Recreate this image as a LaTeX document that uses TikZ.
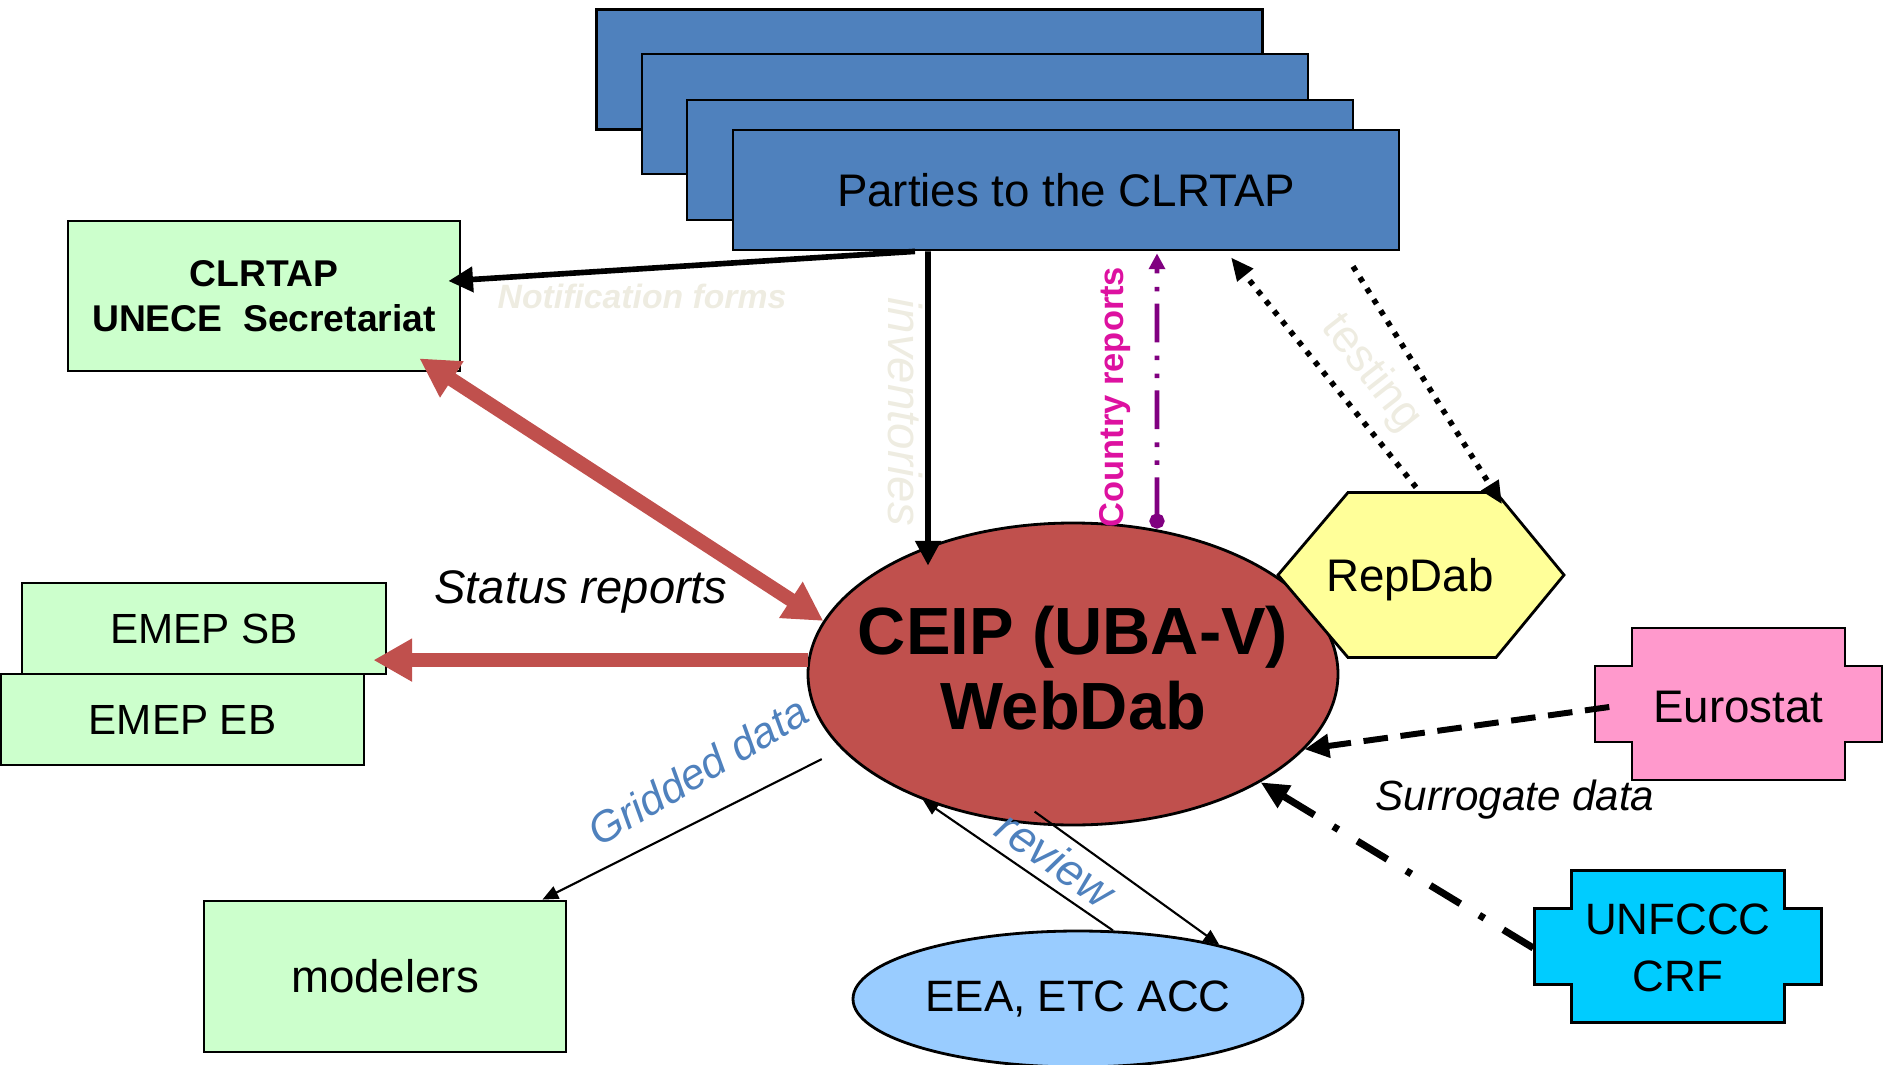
\documentclass[tikz,border=0pt]{standalone}
\usepackage{fontspec}
\setmainfont{Liberation Sans}
\usetikzlibrary{shapes,arrows.meta,positioning}
\definecolor{partyblue}{RGB}{79,129,189}
\definecolor{boxgreen}{RGB}{204,255,204}
\definecolor{ceipred}{RGB}{192,80,77}
\definecolor{repyellow}{RGB}{255,255,153}
\definecolor{europink}{RGB}{255,153,204}
\definecolor{unfcyan}{RGB}{0,204,255}
\definecolor{eeablue}{RGB}{153,204,255}
\definecolor{paletext}{RGB}{238,236,225}
\definecolor{reportmagenta}{RGB}{221,17,160}
\definecolor{reportpurple}{RGB}{128,0,128}
\newcommand{\txtsize}[2]{\fontsize{#1pt}{#2pt}\selectfont}

\tikzset{
  box/.style={draw, line width=0.8pt, inner sep=0pt, align=center},
  sheet/.style={box, fill=partyblue, minimum width=6.66cm, minimum height=1.2cm},
  greenbox/.style={box, fill=boxgreen},
  lbl/.style={inner sep=0pt},
  redarrow/.style={draw=ceipred, line width=4pt, -{Triangle[length=11pt,width=11.5pt]}},
  thickarrow/.style={line width=1.6pt, -{Triangle[length=7pt,width=7pt]}},
  thinarrow/.style={line width=0.6pt, -{Triangle[length=4.5pt,width=3.8pt]}},
  dotarrow/.style={line width=1.6pt, dash pattern=on 1.5pt off 2.2pt, -{Triangle[length=6.5pt,width=5.5pt]}},
  dasharrow/.style={line width=1.7pt, dash pattern=on 7pt off 3.6pt, -{Triangle[length=7pt,width=6.5pt]}},
  dashdotarrow/.style={line width=2pt, dash pattern=on 10pt off 6.3pt on 1.7pt off 6.3pt, -{Triangle[length=8pt,width=7pt]}},
  reportarrow/.style={draw=reportpurple, line width=1.4pt, dash pattern=on 11pt off 3.5pt on 1.3pt off 3.8pt on 1.3pt off 3.8pt, {Circle[length=4.3pt]}-{Triangle[length=4.5pt,width=4.5pt]}}
}

\begin{document}
\begin{tikzpicture}
\useasboundingbox (0,0) rectangle (18.84,10.64);

% stack of parties
\foreach \x/\y/\n in {9.295/9.945/1, 9.75/9.50/2, 10.20/9.04/3}
  \node[sheet] (sheet\n) at (\x,\y) {};
\node[sheet, font=\txtsize{13}{15}] (parties) at (10.66,8.74) {Parties to the CLRTAP};

% receivers on the left
\node[greenbox, minimum width=3.92cm, minimum height=1.5cm, font=\txtsize{10.6}{12.7}\bfseries] (clrtap) at (2.64,7.68) {CLRTAP\\UNECE\ \ Secretariat};
\node[greenbox, minimum width=3.64cm, minimum height=0.91cm, font=\txtsize{12}{14}] (emepsb) at (2.04,4.355) {EMEP SB};
\node[greenbox, minimum width=3.63cm, minimum height=0.91cm, font=\txtsize{12}{14}] (emepeb) at (1.825,3.445) {EMEP EB};
\node[greenbox, minimum width=3.62cm, minimum height=1.51cm, font=\txtsize{13}{15}] (modelers) at (3.85,0.875) {modelers};

% central database
\node[ellipse, draw, line width=0.8pt, fill=ceipred, inner sep=0pt, minimum width=5.3cm, minimum height=3.02cm] (ceip) at (10.73,3.90) {};
\node[lbl, align=center, font=\txtsize{19}{21.5}\bfseries] (ceiptext) at (10.73,3.96) {CEIP (UBA-V)\\WebDab};

% RepDab
\filldraw[fill=repyellow, line width=0.8pt] (12.78,4.89) -- (13.48,5.715) -- (14.96,5.715) -- (15.64,4.89) -- (14.96,4.065) -- (13.48,4.065) -- cycle;
\node[lbl, font=\txtsize{13}{15}, minimum width=2.86cm, minimum height=1.65cm] (rep) at (14.10,4.84) {RepDab};

% data sources on the right
\foreach \cx/\cy/\col in {17.385/3.60/europink, 16.78/1.175/unfcyan}
  \filldraw[fill=\col, line width=0.8pt]
    ({\cx-1.065},{\cy+0.76}) -- ++(2.13,0) -- ++(0,-0.38) -- ++(0.37,0)
    -- ++(0,-0.76) -- ++(-0.37,0) -- ++(0,-0.38) -- ++(-2.13,0)
    -- ++(0,0.38) -- ++(-0.37,0) -- ++(0,0.76) -- ++(0.37,0) -- cycle;
\node[lbl, font=\txtsize{13}{15}, minimum width=2.87cm, minimum height=0.76cm] (euro) at (17.385,3.57) {Eurostat};
\node[lbl, font=\txtsize{12.5}{16.4}, align=center, minimum width=2.88cm] (unfccc) at (16.78,1.16) {UNFCCC\\CRF};

\node[ellipse, draw, line width=0.8pt, fill=eeablue, inner sep=0pt, minimum width=4.5cm, minimum height=1.36cm, font=\txtsize{12.5}{15}] (eea) at (10.78,0.65) {EEA, ETC ACC};

% flows
\draw[thickarrow] ([xshift=-15.1mm]parties.south) -- ([xshift=-1.3mm,yshift=1.5mm]clrtap.east);
\draw[thickarrow] ([xshift=-13.8mm]parties.south) -- ([xshift=-14.5mm,yshift=-4.4mm]ceip.north);
\draw[redarrow, {Triangle[length=11pt,width=11.5pt]}-{Triangle[length=11pt,width=11.5pt]}] (ceip.168) -- ([xshift=-4.2mm,yshift=1.4mm]clrtap.south east);
\draw[redarrow, shorten >=-1.4mm] (ceip.177) -- (ceip.177 -| emepsb.east);
\draw[thinarrow, shorten <=2.2mm] (ceip.198) -- ([xshift=-2.5mm]modelers.north east);
\draw[thinarrow] (eea.63) -- (ceip.220);
\draw[thinarrow] ([xshift=0.2mm,yshift=1.3mm]ceip.255) -- (eea.21);
\draw[dasharrow] ([xshift=1.5mm]euro.west) -- (ceip.-18);
\draw[dashdotarrow] (unfccc.west) -- (ceip.-30);
\draw[dotarrow] ([xshift=0.6mm,yshift=0.95mm]rep.north) -- ([xshift=16.5mm,yshift=-0.6mm]parties.south);
\draw[dotarrow] ([xshift=28.7mm,yshift=-1.5mm]parties.south) -- ([xshift=9.2mm,yshift=-0.75mm]rep.north);
\draw[reportarrow] ([xshift=8.4mm,yshift=-0.7mm]ceip.north) -- ([xshift=9.1mm,yshift=-0.2mm]parties.south);

% labels
\node[lbl, text=paletext, font=\txtsize{9.6}{11}\bfseries\itshape] (notif) at (6.42,7.68) {Notification forms};
\node[lbl, text=paletext, font=\txtsize{13.5}{15}\itshape, rotate=-90] (inv) at (9.05,6.52) {inventories};
\node[lbl, text=reportmagenta, font=\txtsize{9.8}{11}\bfseries, rotate=90] (country) at (11.15,6.67) {Country reports};
\node[lbl, text=paletext, font=\txtsize{13}{15}, rotate=-52] (testing) at (13.71,6.91) {testing};
\node[lbl, font=\txtsize{13.4}{15}\itshape] (status) at (5.81,4.72) {Status reports};
\node[lbl, text=partyblue, font=\txtsize{12.2}{14}\itshape, rotate=31] (gridded) at (6.98,2.93) {Gridded data};
\node[lbl, text=partyblue, font=\txtsize{13}{15}\itshape, rotate=-35] (review) at (10.56,2.05) {review};
\node[lbl, font=\txtsize{12}{14}\itshape] (surrogate) at (15.15,2.64) {Surrogate data};
\end{tikzpicture}
\end{document}
